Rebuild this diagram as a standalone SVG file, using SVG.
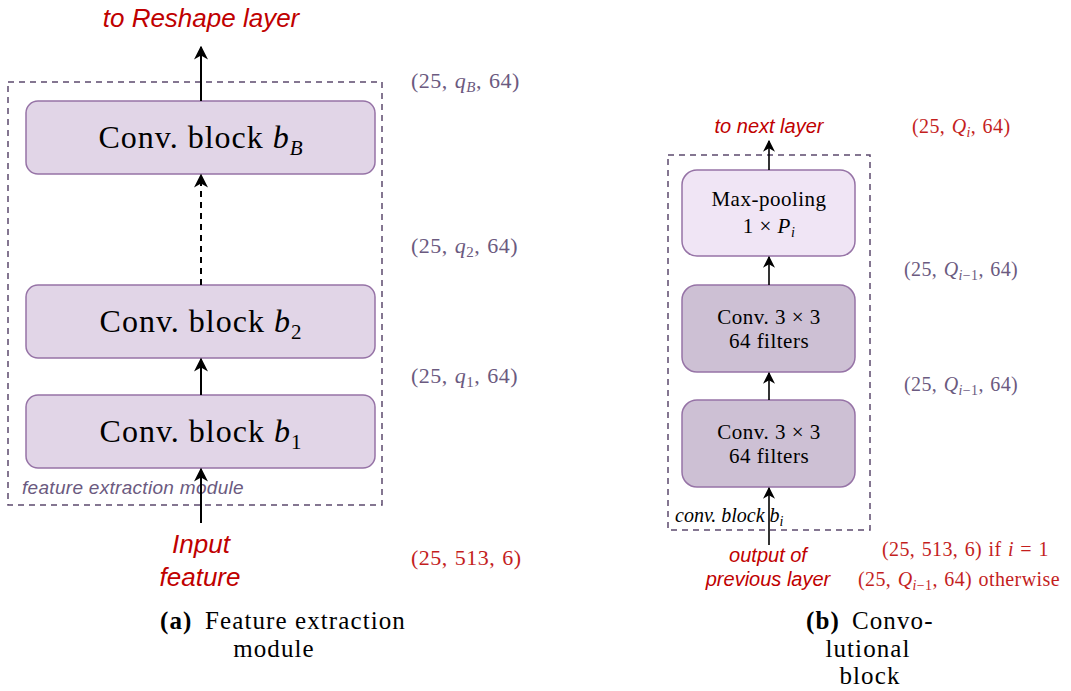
<svg xmlns="http://www.w3.org/2000/svg" width="1071" height="691" viewBox="0 0 1071 691">
<style>
.blk{fill:#e1d5e7;stroke:#9673a6;stroke-width:1.5}
.mp{fill:#f0e5f5;stroke:#9673a6;stroke-width:1.5}
.cv{fill:#cdc0d4;stroke:#9673a6;stroke-width:1.5}
.dash{fill:none;stroke:#5c4a6e;stroke-width:1.5;stroke-dasharray:6 5}
.ar{stroke:#000;stroke-width:2;fill:none;marker-end:url(#ah)}
.arS{stroke:#000;stroke-width:1.6;fill:none;marker-end:url(#ahs)}
.serif{font-family:"Liberation Serif","DejaVu Serif",serif}
.sans{font-family:"Liberation Sans",Arial,sans-serif}
.bt{font-size:32px;letter-spacing:1px}
.bx{font-size:21px;letter-spacing:0.5px}
.mL{font-size:22px;letter-spacing:0.5px;word-spacing:1px}
.mR{font-size:20px;letter-spacing:0.4px;word-spacing:1px}
.cap{font-size:25px;letter-spacing:1.1px}
.red{fill:#c00000}
.redm{fill:#c41e1e}
.pur{fill:#6b5a80}
</style>
<defs>
<marker id="ah" viewBox="0 0 10 10" refX="9" refY="5" markerWidth="14" markerHeight="14" markerUnits="userSpaceOnUse" orient="auto">
<path d="M0,0 L10,5 L0,10 L3,5 z" fill="#000"/>
</marker>
<marker id="ahs" viewBox="0 0 10 10" refX="9" refY="5" markerWidth="12" markerHeight="12" markerUnits="userSpaceOnUse" orient="auto">
<path d="M0,0 L10,5 L0,10 L3,5 z" fill="#000"/>
</marker>
</defs>
<rect width="1071" height="691" fill="#fff"/>

<!-- Left panel -->
<g id="fe-module">
<rect class="dash" x="8" y="82" width="374" height="423"/>
<text class="sans pur" x="22" y="494" font-size="19" letter-spacing="0.3" font-style="italic">feature extraction module</text>
</g>
<g id="block-bB">
<rect class="blk" x="26" y="101" width="349" height="73" rx="12"/>
<text class="serif bt" x="201" y="148" text-anchor="middle">Conv. block <tspan font-style="italic">b</tspan><tspan font-size="21" dy="7" font-style="italic">B</tspan></text>
</g>
<g id="block-b2">
<rect class="blk" x="26" y="285" width="349" height="73" rx="12"/>
<text class="serif bt" x="201" y="332" text-anchor="middle">Conv. block <tspan font-style="italic">b</tspan><tspan font-size="21" dy="7">2</tspan></text>
</g>
<g id="block-b1">
<rect class="blk" x="26" y="395" width="349" height="73" rx="12"/>
<text class="serif bt" x="201" y="442" text-anchor="middle">Conv. block <tspan font-style="italic">b</tspan><tspan font-size="21" dy="7">1</tspan></text>
</g>
<g id="left-labels">
<text class="sans red" x="201" y="27" font-size="26" font-style="italic" text-anchor="middle">to Reshape layer</text>
<text class="sans red" x="201" y="553" font-size="26" font-style="italic" text-anchor="middle">Input</text>
<text class="sans red" x="200" y="586" font-size="26" font-style="italic" text-anchor="middle">feature</text>
<text class="serif pur mL" x="411" y="88">(25, <tspan font-style="italic">q</tspan><tspan font-size="15" dy="4" font-style="italic">B</tspan><tspan dy="-4">, 64)</tspan></text>
<text class="serif pur mL" x="411" y="253">(25, <tspan font-style="italic">q</tspan><tspan font-size="15" dy="4">2</tspan><tspan dy="-4">, 64)</tspan></text>
<text class="serif pur mL" x="411" y="383">(25, <tspan font-style="italic">q</tspan><tspan font-size="15" dy="4">1</tspan><tspan dy="-4">, 64)</tspan></text>
<text class="serif redm mL" x="411" y="565">(25, 513, 6)</text>
<text class="serif cap" x="160" y="629"><tspan font-weight="bold">(a)</tspan><tspan x="205">Feature extraction</tspan></text>
<text class="serif cap" x="274" y="657" text-anchor="middle">module</text>
</g>

<!-- Right panel -->
<g id="conv-block-bi">
<rect class="dash" x="668" y="155" width="202" height="375"/>
<text class="serif" x="675" y="522" font-size="20" font-style="italic">conv. block b<tspan font-size="14" dy="4">i</tspan></text>
</g>
<g id="maxpool">
<rect class="mp" x="682" y="170" width="173" height="86" rx="15"/>
<text class="serif bx" x="769" y="206" text-anchor="middle">Max-pooling</text>
<text class="serif bx" x="769" y="233" text-anchor="middle">1 × <tspan font-style="italic">P</tspan><tspan font-size="14" dy="4" font-style="italic">i</tspan></text>
</g>
<g id="conv2">
<rect class="cv" x="682" y="285" width="173" height="87" rx="15"/>
<text class="serif bx" x="769" y="324" text-anchor="middle">Conv. 3 × 3</text>
<text class="serif bx" x="769" y="348" text-anchor="middle">64 filters</text>
</g>
<g id="conv1">
<rect class="cv" x="682" y="400" width="173" height="87" rx="15"/>
<text class="serif bx" x="769" y="439" text-anchor="middle">Conv. 3 × 3</text>
<text class="serif bx" x="769" y="463" text-anchor="middle">64 filters</text>
</g>
<g id="right-labels">
<text class="sans red" x="769" y="133" font-size="20" font-style="italic" text-anchor="middle">to next layer</text>
<text class="sans red" x="768" y="562" font-size="20" font-style="italic" text-anchor="middle">output of</text>
<text class="sans red" x="768" y="586" font-size="20" font-style="italic" text-anchor="middle">previous layer</text>
<text class="serif redm mR" x="912" y="133">(25, <tspan font-style="italic">Q</tspan><tspan font-size="14" dy="4" font-style="italic">i</tspan><tspan dy="-4">, 64)</tspan></text>
<text class="serif pur mR" x="904" y="276">(25, <tspan font-style="italic">Q</tspan><tspan font-size="14" dy="4"><tspan font-style="italic">i</tspan>−1</tspan><tspan dy="-4">, 64)</tspan></text>
<text class="serif pur mR" x="904" y="391">(25, <tspan font-style="italic">Q</tspan><tspan font-size="14" dy="4"><tspan font-style="italic">i</tspan>−1</tspan><tspan dy="-4">, 64)</tspan></text>
<text class="serif redm mR" x="882" y="556">(25, 513, 6) if <tspan font-style="italic">i</tspan> = 1</text>
<text class="serif redm mR" x="858" y="586">(25, <tspan font-style="italic">Q</tspan><tspan font-size="14" dy="4"><tspan font-style="italic">i</tspan>−1</tspan><tspan dy="-4">, 64) otherwise</tspan></text>
<text class="serif cap" x="806" y="629"><tspan font-weight="bold">(b)</tspan><tspan x="852">Convo-</tspan></text>
<text class="serif cap" x="868" y="657" text-anchor="middle">lutional</text>
<text class="serif cap" x="870" y="684" text-anchor="middle">block</text>
</g>

<g id="connectors">
<line class="ar" x1="201" y1="101" x2="201" y2="47"/>
<line class="ar" x1="201" y1="285" x2="201" y2="175" stroke-dasharray="6 5"/>
<line class="ar" x1="201" y1="395" x2="201" y2="359"/>
<line class="ar" x1="201" y1="523" x2="201" y2="469"/>
<line class="arS" x1="769" y1="170" x2="769" y2="141"/>
<line class="arS" x1="769" y1="285" x2="769" y2="257"/>
<line class="arS" x1="769" y1="400" x2="769" y2="373"/>
<line class="arS" x1="769" y1="545" x2="769" y2="488"/>
</g>
</svg>
